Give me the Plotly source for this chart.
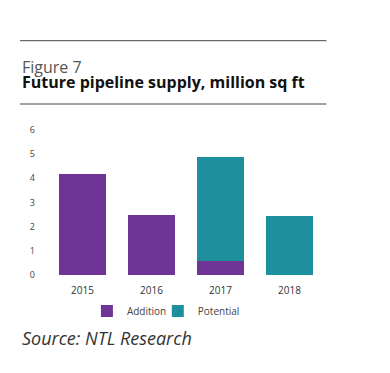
import plotly.graph_objects as go

years = ["2015", "2016", "2017", "2018"]
addition = [4.2, 2.5, 0.6, 0]
potential = [0, 0, 4.3, 2.45]
y_ticks = [0, 1, 2, 3, 4, 5, 6]

OFF = 8  # page body margin
W, H = 390 - OFF, 373 - OFF
L, R = 48 - OFF, 324.5 - OFF
T, B = 130 - OFF, 275 - OFF

def px(x):
    return (x - OFF - L) / (R - L)

def py(y):
    return (B - (y - OFF)) / (B - T)

fig = go.Figure()
fig.add_trace(go.Bar(x=years, y=addition, name="Addition", marker_color="#6E3596",
                     marker_line_width=0, legend="legend"))
fig.add_trace(go.Bar(x=years, y=potential, name="Potential", marker_color="#1E8F9C",
                     marker_line_width=0, legend="legend2"))

leg_common = dict(orientation="h", xanchor="left", yanchor="middle", y=py(311),
                  font=dict(size=10, color="#444"), itemwidth=30,
                  bgcolor="rgba(0,0,0,0)")

fig.update_layout(
    width=W, height=H,
    margin=dict(l=L, r=W - R, t=T, b=H - B, autoexpand=False),
    barmode="stack", bargap=0.33,
    plot_bgcolor="white", paper_bgcolor="white",
    font=dict(family="Open Sans", color="#444"),
    xaxis=dict(showgrid=False, showline=False, ticks="", ticklabelstandoff=8,
               tickfont=dict(size=10, color="#333")),
    yaxis=dict(range=[0, 6], tickvals=y_ticks, showgrid=False, zeroline=False,
               showline=False, ticks="", tickfont=dict(size=9, color="#444"), ticklabelstandoff=12),
    legend=dict(x=px(87), **leg_common),
    legend2=dict(x=px(158), **leg_common),
    showlegend=True,
)

for yy in (40.7, 104):
    fig.add_shape(type="line", xref="paper", yref="paper", x0=px(20), x1=px(327),
                  y0=py(yy), y1=py(yy), line=dict(color="#444", width=1))

title_text = ("<span style='font-size:16px;color:#555'>Figure 7</span><br>"
              "<span style='font-size:16px;color:#111'><b>Future pipeline supply, million sq ft</b></span>")
fig.add_annotation(text=title_text, xref="paper", yref="paper", x=px(20), y=py(74.5),
                   xanchor="left", yanchor="middle", align="left", showarrow=False,
                   font=dict(size=11.5, color="#111", family="Open Sans"))
fig.add_annotation(text="<i>Source: NTL Research</i>", xref="paper", yref="paper",
                   x=px(20), y=py(338), xanchor="left", yanchor="middle", showarrow=False,
                   font=dict(size=18, color="#333", family="Open Sans"))

fig.write_html("out.html")
